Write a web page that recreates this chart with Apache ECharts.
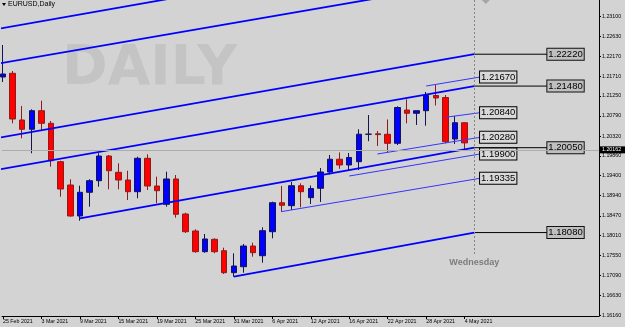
<!DOCTYPE html>
<html><head><meta charset="utf-8">
<script src="https://cdn.jsdelivr.net/npm/echarts/dist/echarts.min.js"></script>
<style>html,body{margin:0;padding:0;background:#d3d3d3;}#c{width:625px;height:327px;}</style>
</head><body><div id="c"></div><script>
const dates = ['25 Feb 2021','26 Feb 2021','1 Mar 2021','2 Mar 2021','3 Mar 2021','4 Mar 2021','5 Mar 2021','8 Mar 2021','9 Mar 2021','10 Mar 2021','11 Mar 2021','12 Mar 2021','15 Mar 2021','16 Mar 2021','17 Mar 2021','18 Mar 2021','19 Mar 2021','22 Mar 2021','23 Mar 2021','24 Mar 2021','25 Mar 2021','26 Mar 2021','29 Mar 2021','30 Mar 2021','31 Mar 2021','1 Apr 2021','2 Apr 2021','5 Apr 2021','6 Apr 2021','7 Apr 2021','8 Apr 2021','9 Apr 2021','12 Apr 2021','13 Apr 2021','14 Apr 2021','15 Apr 2021','16 Apr 2021','19 Apr 2021','20 Apr 2021','21 Apr 2021','22 Apr 2021','23 Apr 2021','26 Apr 2021','27 Apr 2021','28 Apr 2021','29 Apr 2021','30 Apr 2021','3 May 2021','4 May 2021'];
const open  = [1.21691,1.21777,1.20693,1.20477,1.20909,1.20616,1.19725,1.19184,1.18465,1.19015,1.19284,1.19857,1.19479,1.19300,1.19029,1.19804,1.19161,1.18736,1.19324,1.18511,1.18117,1.17636,1.17924,1.17659,1.17149,1.17288,1.17768,1.17543,1.18100,1.18773,1.18704,1.19168,1.18890,1.19108,1.19486,1.19783,1.19649,1.19725,1.20361,1.20373,1.20361,1.20152,1.20925,1.20849,1.20909,1.21262,1.21215,1.20252,1.20630];
const close = [1.21761,1.20716,1.20477,1.20909,1.20616,1.19748,1.19091,1.18465,1.19015,1.19284,1.19857,1.19516,1.19300,1.19029,1.19804,1.19161,1.19052,1.19324,1.18504,1.18100,1.17636,1.17931,1.17636,1.17149,1.17304,1.17768,1.17613,1.18124,1.18773,1.18713,1.19168,1.19029,1.19103,1.19486,1.19783,1.19649,1.19823,1.20363,1.20365,1.20354,1.20152,1.20983,1.20849,1.20909,1.21262,1.21204,1.20189,1.20630,1.20162];
const low   = [1.21575,1.20616,1.20268,1.19920,1.20461,1.19609,1.18913,1.18448,1.18356,1.18681,1.19145,1.19085,1.19085,1.18836,1.18876,1.19068,1.18760,1.18681,1.18425,1.18070,1.17613,1.17613,1.17599,1.17119,1.17056,1.17149,1.17520,1.17381,1.17947,1.18565,1.18604,1.18667,1.18743,1.18790,1.19428,1.19560,1.19532,1.19532,1.20201,1.20090,1.19939,1.20113,1.20616,1.20577,1.20561,1.21030,1.20152,1.20136,1.19997];
const high  = [1.22434,1.21830,1.21018,1.20941,1.21141,1.20670,1.19748,1.19317,1.19168,1.19317,1.19920,1.19881,1.19688,1.19516,1.19841,1.19897,1.19377,1.19493,1.19416,1.18541,1.18156,1.18047,1.17947,1.17729,1.17599,1.17815,1.17845,1.18202,1.18797,1.19161,1.19254,1.19224,1.19173,1.19579,1.19881,1.19939,1.19927,1.20477,1.20809,1.20438,1.20705,1.21011,1.21173,1.20913,1.21343,1.21505,1.21273,1.20786,1.20635];
const xTickBars = [0,4,8,12,16,20,24,28,32,36,40,44,48];
const yTickLabels = ['1.16160','1.16630','1.17090','1.17550','1.18010','1.18470','1.18940','1.19400','1.19860','1.20320','1.20790','1.21250','1.21710','1.22170','1.22630','1.23100'];
const currentPrice = 1.20162;
// channel trend lines: [startBar, startPrice, endBar, endPrice]
const channelLines = [
  [-1, 1.22787, 20, 1.23614],
  [-1, 1.21981, 40, 1.23562],
  [-1, 1.20260, 49, 1.22220],
  [-1, 1.19521, 49, 1.21480],
  [8, 1.18411, 49, 1.20050],
  [24, 1.17056, 49, 1.18080]
];
const channelLabels = [null, null, '1.22220', '1.21480', '1.20050', '1.18080'];
const thinLines = [
  [44, 1.21482, 49.6, 1.21690],
  [46, 1.20756, 49.6, 1.20862],
  [38.93, 1.19904, 49.6, 1.20291],
  [36, 1.19393, 49.6, 1.19904],
  [28.91, 1.18565, 49.6, 1.19340]
];
const thinLabels = ['1.21670', '1.20840', '1.20280', '1.19900', '1.19335'];
const markerBar = 49;          // Wednesday vertical line
const markerName = 'Wednesday';

const BAR_PX = 9.65;
const X_MIN = -1 / BAR_PX, X_MAX = X_MIN + 599 / BAR_PX;
const Y_MIN = 1.161436, Y_MAX = 1.234783;
const LABEL_BAR = 56.6;
const FONT = 'Liberation Sans';

const candles = dates.map((d, i) => [i, open[i], close[i], low[i], high[i]]);
const yVals = yTickLabels.map(Number);

const series = [{
  type: 'candlestick', data: candles, encode: {x: 0, y: [1, 2, 3, 4]},
  barWidth: 6, silent: true, z: 2,
  itemStyle: {color: '#0000ff', color0: '#ff0000', borderColor: '#141450', borderColor0: '#8c1c1c', borderWidth: 1},
  markLine: {
    symbol: 'none', silent: true, animation: false,
    data: [
      {yAxis: currentPrice, lineStyle: {color: '#acacac', width: 1, type: 'solid'},
       label: {show: true, position: 'end', distance: 0, formatter: currentPrice.toFixed(5), backgroundColor: '#000', color: '#fff', fontSize: 5.3, fontFamily: FONT, padding: [1, 4, 1, 3]}},
      [{coord: [markerBar, Y_MAX], lineStyle: {color: '#858585', width: 1, type: [2, 2]},
        label: {show: true, position: 'end', distance: 3, formatter: markerName, color: '#7c7c7c', fontWeight: 'bold', fontSize: 9, fontFamily: FONT}},
       {coord: [markerBar, 1.1756]}]
    ]
  },
  markPoint: {
    silent: true, animation: false,
    data: [{coord: [50.2, Y_MAX], symbol: 'diamond', symbolSize: 8, itemStyle: {color: '#a6a6a6'}, label: {show: false}}]
  }
}];

channelLines.forEach((l, i) => {
  series.push({type: 'line', data: [[l[0], l[1]], [l[2], l[3]]], symbol: 'none', silent: true, z: 3,
    lineStyle: {color: '#0000ff', width: 1.8}});
  if (channelLabels[i]) {
    series.push({type: 'line', data: [[l[2], l[3]], [LABEL_BAR, l[3]]], symbol: 'none', silent: true, z: 3,
      lineStyle: {color: '#000', width: 1},
      endLabel: {show: true, formatter: channelLabels[i], distance: 0, backgroundColor: '#bfbfbf', borderColor: '#111', borderWidth: 1,
        padding: [1, 1, 0, 1], fontSize: 9.5, lineHeight: 10, fontFamily: FONT, color: '#000'}});
  }
});
thinLines.forEach((l, i) => {
  series.push({type: 'line', data: [[l[0], l[1]], [l[2], l[3]]], symbol: 'none', silent: true, z: 3,
    lineStyle: {color: '#3535ff', width: 1},
    endLabel: {show: true, formatter: thinLabels[i], distance: 0, backgroundColor: '#d9d9d9', borderColor: '#000', borderWidth: 1,
      padding: [1, 1, 0, 1], fontSize: 9.5, lineHeight: 10, fontFamily: FONT, color: '#000'}});
});

const chart = echarts.init(document.getElementById('c'), null, {renderer: 'canvas'});
chart.setOption({
  animation: false,
  backgroundColor: '#d3d3d3',
  title: {text: 'EURUSD,Daily', left: 8, top: 1, padding: 0, textStyle: {fontSize: 7, fontWeight: 'normal', color: '#000', fontFamily: FONT}},
  graphic: [
    {type: 'polygon', shape: {points: [[2, 3], [6, 3], [4, 6]]}, style: {fill: '#000'}, silent: true},
    {type: 'text', x: 62, y: 70, z: 0, silent: true, style: {text: 'DAILY', font: 'bold 55px "DejaVu Sans"', fill: '#c4c4c4', textVerticalAlign: 'middle'}}
  ],
  grid: {left: 0, right: 26, top: 0, bottom: 11, containLabel: false},
  xAxis: {
    type: 'value', min: X_MIN, max: X_MAX, position: 'bottom',
    axisLine: {show: true, onZero: false, lineStyle: {color: '#000', width: 1}},
    axisTick: {show: true, customValues: xTickBars, length: 3, lineStyle: {color: '#000'}},
    axisLabel: {customValues: xTickBars, formatter: v => dates[v], align: 'left', fontSize: 5.3, color: '#000', margin: 3, fontFamily: FONT},
    splitLine: {show: false}
  },
  yAxis: {
    type: 'value', min: Y_MIN, max: Y_MAX, position: 'right',
    axisLine: {show: true, onZero: false, lineStyle: {color: '#000', width: 1}},
    axisTick: {show: true, customValues: yVals, length: 2, lineStyle: {color: '#000'}},
    axisLabel: {customValues: yVals, formatter: v => v.toFixed(5), fontSize: 5.3, color: '#000', margin: 3, fontFamily: FONT},
    splitLine: {show: false}
  },
  series: series
});
</script></body></html>
